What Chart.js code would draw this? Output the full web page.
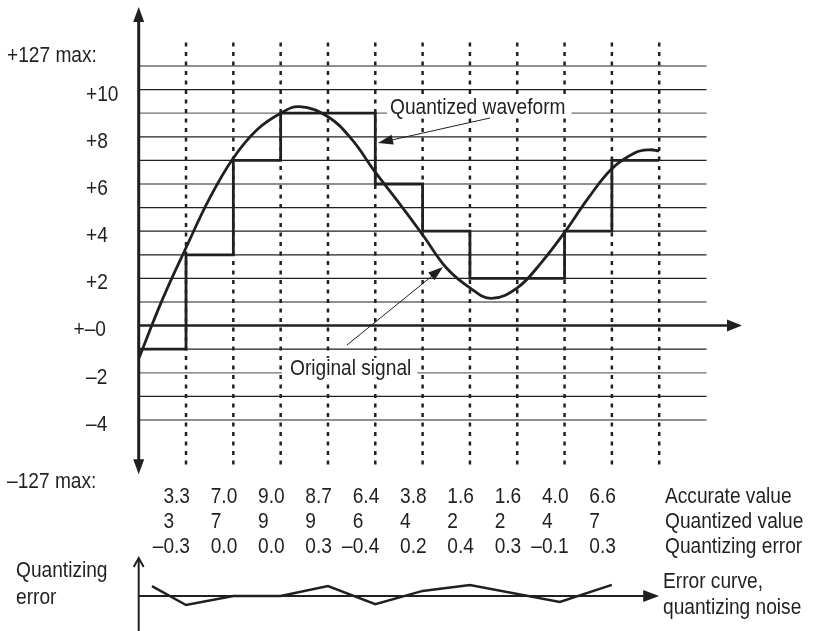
<!DOCTYPE html>
<html lang="en">
<head>
<meta charset="UTF-8" />
<title>Quantization of a signal</title>
<script src="https://cdn.jsdelivr.net/npm/chart.js"></script>
<style>
  html, body { margin: 0; padding: 0; background: #fff; }
  #wrap { position: relative; width: 814px; height: 631px; }
  #main { position: absolute; left: 0; top: 0; }
  #err { position: absolute; left: 0; top: 550px; }
</style>
</head>
<body>
<div id="wrap">
  <canvas id="main" width="814" height="631"></canvas>
  <canvas id="err" width="814" height="81"></canvas>
</div>
<script>
// sample positions and the table under the chart
const sampleIdx = [1, 2, 3, 4, 5, 6, 7, 8, 9, 10];
const accurate = [3.3, 7.0, 9.0, 8.7, 6.4, 3.8, 1.6, 1.6, 4.0, 6.6];
const quantized = [3, 7, 9, 9, 6, 4, 2, 2, 4, 7];
const qError = [-0.3, 0.0, 0.0, 0.3, -0.4, 0.2, 0.4, 0.3, -0.1, 0.3];
const rowLabels = ["Accurate value", "Quantized value", "Quantizing error"];

// original signal
const signalX = [0, 0.5, 1, 1.5, 2, 2.5, 3, 3.4, 4, 4.5, 5, 5.5, 6, 6.5, 7, 7.45, 8, 8.5, 9, 9.5, 10, 10.5, 10.8, 11];
const signalY = [-1.4, 1.1, 3.3, 5.4, 7.1, 8.3, 9.0, 9.28, 8.85, 7.9, 6.5, 5.2, 3.85, 2.45, 1.6, 1.15, 1.6, 2.65, 3.95, 5.4, 6.65, 7.33, 7.45, 7.4];

// quantized staircase (held until next sample)
const stepX = [0, 1, 2, 3, 4, 5, 6, 7, 8, 9, 10, 11];
const stepY = [-1, 3, 7, 9, 9, 6, 4, 2, 2, 4, 7, 7];

// error curve as drawn in the lower strip
const errX = [0.28, 1, 2, 3, 4, 5, 6, 7, 8.9, 10];
const errY = [0.33, -0.3, 0, 0, 0.33, -0.27, 0.17, 0.37, -0.2, 0.37];

// y axis text
const gridValues = [-4, -3, -2, -1, 1, 2, 3, 4, 5, 6, 7, 8, 9, 10, 11];
const tickValues = [10, 8, 6, 4, 2, 0, -2, -4];
const tickLabels = ["+10", "+8", "+6", "+4", "+2", "+\u20130", "\u20132", "\u20134"];

const INK = "#231f20";
const FONT = '22px "Liberation Sans", Arial, sans-serif';
const SQUEEZE = 0.87; // condensed look

function dash(v) {
  return v < 0 ? "\u2013" + Math.abs(v).toFixed(1) : v.toFixed(1);
}

function tw(ctx, t) {
  return ctx.measureText(t).width * SQUEEZE;
}

function say(ctx, t, x, y, align) {
  const w = tw(ctx, t);
  const left = align === "right" ? x - w : x;
  ctx.save();
  ctx.translate(left, y);
  ctx.scale(SQUEEZE, 1);
  ctx.textAlign = "left";
  ctx.fillText(t, 0, 0);
  ctx.restore();
}

function arrowHead(ctx, x1, y1, x2, y2, len, half) {
  const a = Math.atan2(y2 - y1, x2 - x1);
  ctx.beginPath();
  ctx.moveTo(x2, y2);
  ctx.lineTo(x2 - len * Math.cos(a) + half * Math.sin(a), y2 - len * Math.sin(a) - half * Math.cos(a));
  ctx.lineTo(x2 - len * Math.cos(a) - half * Math.sin(a), y2 - len * Math.sin(a) + half * Math.cos(a));
  ctx.closePath();
  ctx.fill();
}

function whiteText(ctx, t, x, y, padL, padR) {
  const w = tw(ctx, t);
  ctx.fillStyle = "#fff";
  ctx.fillRect(x - padL, y - 17, w + padL + padR, 21);
  ctx.fillStyle = INK;
  say(ctx, t, x, y);
}

const backdrop = {
  id: "backdrop",
  beforeDatasetsDraw(chart) {
    const { ctx, chartArea, scales: { x, y } } = chart;
    ctx.save();
    // horizontal level lines
    gridValues.forEach((v) => {
      ctx.beginPath();
      ctx.strokeStyle = v === 9 || v === -2 ? "#6d6e70" : INK;
      ctx.lineWidth = 1.2;
      ctx.moveTo(x.getPixelForValue(0), y.getPixelForValue(v));
      ctx.lineTo(x.getPixelForValue(12), y.getPixelForValue(v));
      ctx.stroke();
    });
    // dotted sampling lines
    ctx.strokeStyle = INK;
    ctx.lineWidth = 2.5;
    ctx.setLineDash([4, 5.5]);
    [...sampleIdx, 11].forEach((k) => {
      ctx.beginPath();
      ctx.moveTo(x.getPixelForValue(k), y.getPixelForValue(12));
      ctx.lineTo(x.getPixelForValue(k), y.getPixelForValue(-6.1));
      ctx.stroke();
    });
    ctx.setLineDash([]);
    // axes
    const x0 = x.getPixelForValue(0);
    const y0 = y.getPixelForValue(0);
    ctx.fillStyle = INK;
    ctx.lineWidth = 3;
    ctx.beginPath();
    ctx.moveTo(x0, chartArea.top + 12);
    ctx.lineTo(x0, chartArea.bottom - 12);
    ctx.stroke();
    arrowHead(ctx, x0, chartArea.bottom, x0, chartArea.top, 15, 5.5);
    arrowHead(ctx, x0, chartArea.top, x0, chartArea.bottom, 15, 5.5);
    ctx.lineWidth = 2.5;
    ctx.beginPath();
    ctx.moveTo(x0, y0);
    ctx.lineTo(chartArea.right - 12, y0);
    ctx.stroke();
    arrowHead(ctx, x0, y0, chartArea.right, y0, 15, 6);
    ctx.restore();
  },
  afterDatasetsDraw(chart) {
    const { ctx, chartArea, scales: { x, y } } = chart;
    ctx.save();
    ctx.font = FONT;
    ctx.fillStyle = INK;
    ctx.textBaseline = "middle";

    // y labels
    say(ctx, "+127 max:", 7, 56);
    say(ctx, "\u2013127 max:", 7, 482);
    tickValues.forEach((v, i) => {
      if (v === 0) {
        say(ctx, tickLabels[i], 106, y.getPixelForValue(v) + 4, "right");
      } else {
        say(ctx, tickLabels[i], 86, y.getPixelForValue(v) + 5);
      }
    });

    // annotations with their pointers
    ctx.textBaseline = "alphabetic";
    whiteText(ctx, "Quantized waveform", 390, y.getPixelForValue(9) + 1, 3, 6);
    whiteText(ctx, "Original signal", 290, y.getPixelForValue(-2) + 2, 8, 6);

    ctx.strokeStyle = INK;
    ctx.lineWidth = 1;
    ctx.beginPath();
    ctx.moveTo(490, 118);
    ctx.lineTo(385, 141.5);
    ctx.stroke();
    arrowHead(ctx, 490, 118, 378, 143, 15, 5);
    ctx.beginPath();
    ctx.moveTo(347, 345);
    ctx.lineTo(437, 272);
    ctx.stroke();
    arrowHead(ctx, 347, 345, 443, 267, 15, 5);

    // value table
    ctx.textBaseline = "middle";
    const rows = [chartArea.bottom + 23, chartArea.bottom + 48, chartArea.bottom + 73];
    sampleIdx.forEach((k, i) => {
      const right = x.getPixelForValue(k) + 4;
      const acc = accurate[i].toFixed(1);
      say(ctx, acc, right, rows[0], "right");
      say(ctx, dash(qError[i]), right, rows[2], "right");
      say(ctx, String(quantized[i]), right - tw(ctx, acc), rows[1]);
    });
    rowLabels.forEach((t, i) => say(ctx, t, 665, rows[i]));
    ctx.restore();
  }
};

new Chart(document.getElementById("main"), {
  type: "line",
  data: {
    datasets: [
      {
        label: "Original signal",
        data: signalX.map((k, i) => ({ x: k, y: signalY[i] })),
        borderColor: INK,
        borderWidth: 2.8,
        pointRadius: 0,
        tension: 0.4,
      },
      {
        label: "Quantized waveform",
        data: stepX.map((k, i) => ({ x: k, y: stepY[i] })),
        borderColor: INK,
        borderWidth: 2.8,
        pointRadius: 0,
        stepped: true,
      },
    ],
  },
  options: {
    responsive: false,
    animation: false,
    layout: { padding: { left: 138.7, right: 72, top: 7, bottom: 156.7 } },
    scales: {
      x: { type: "linear", display: false, min: 0, max: 12.75 },
      y: { display: false, min: -6.3, max: 13.5 },
    },
    plugins: { legend: { display: false }, tooltip: { enabled: false } },
  },
  plugins: [backdrop],
});

const errStrip = {
  id: "errStrip",
  beforeDatasetsDraw(chart) {
    const { ctx, chartArea, scales: { x, y } } = chart;
    const x0 = x.getPixelForValue(0);
    const y0 = y.getPixelForValue(0);
    ctx.save();
    ctx.strokeStyle = INK;
    ctx.fillStyle = INK;
    ctx.lineWidth = 2;
    ctx.beginPath();
    ctx.moveTo(x0, chartArea.bottom);
    ctx.lineTo(x0, chartArea.top + 1);
    ctx.stroke();
    // open arrow tip on the error axis
    ctx.beginPath();
    ctx.moveTo(x0 - 5, chartArea.top + 9);
    ctx.lineTo(x0, chartArea.top);
    ctx.lineTo(x0 + 5, chartArea.top + 9);
    ctx.stroke();
    const tip = x.getPixelForValue(11);
    ctx.beginPath();
    ctx.moveTo(x0, y0);
    ctx.lineTo(tip - 12, y0);
    ctx.stroke();
    arrowHead(ctx, x0, y0, tip, y0, 16, 6);

    ctx.font = FONT;
    ctx.textBaseline = "middle";
    say(ctx, "Quantizing", 16, 21);
    say(ctx, "error", 16, 48);
    say(ctx, "Error curve,", 663, 32);
    say(ctx, "quantizing noise", 663, 58);
    ctx.restore();
  }
};

new Chart(document.getElementById("err"), {
  type: "line",
  data: {
    datasets: [
      {
        label: "Error curve",
        data: errX.map((k, i) => ({ x: k, y: errY[i] })),
        borderColor: INK,
        borderWidth: 2.5,
        pointRadius: 0,
        tension: 0,
      },
    ],
  },
  options: {
    responsive: false,
    animation: false,
    layout: { padding: { left: 138.7, right: 72, top: 8, bottom: 0 } },
    scales: {
      x: { type: "linear", display: false, min: 0, max: 12.75 },
      y: { display: false, min: -1.167, max: 1.267 },
    },
    plugins: { legend: { display: false }, tooltip: { enabled: false } },
  },
  plugins: [errStrip],
});
</script>
</body>
</html>
